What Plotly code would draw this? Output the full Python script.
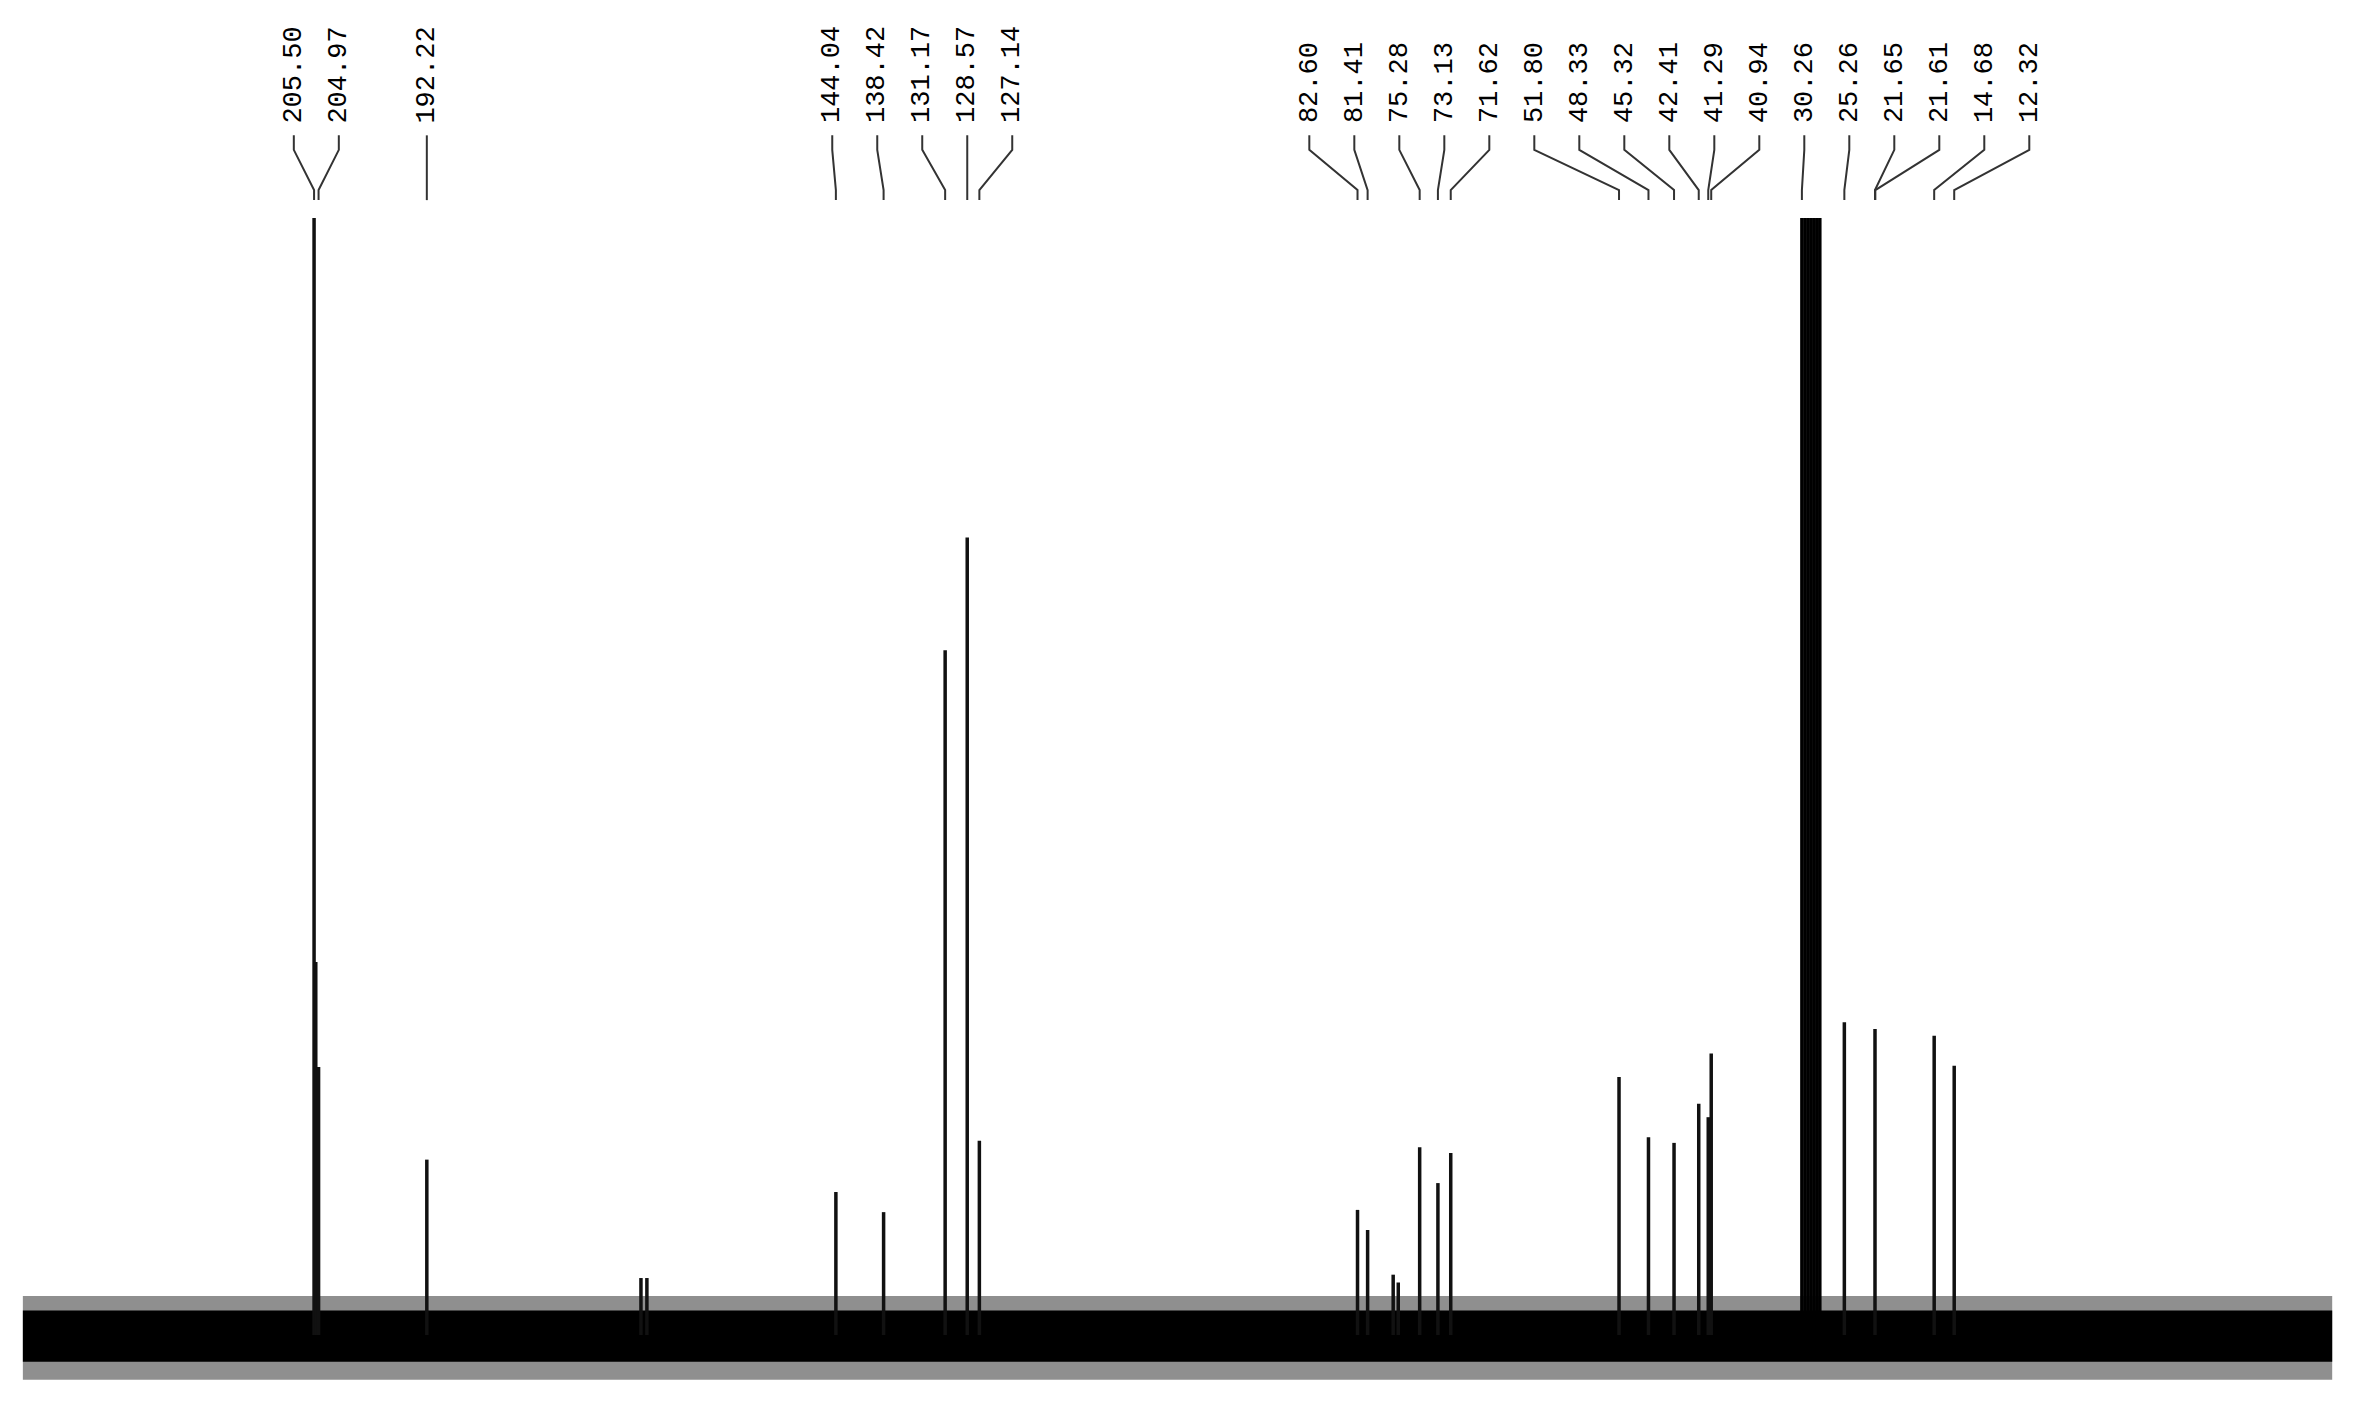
import plotly.graph_objects as go

# ---------------- data ----------------
label_text = ["205.50", "204.97", "192.22", "144.04", "138.42", "131.17", "128.57", "127.14",
              "82.60", "81.41", "75.28", "73.13", "71.62", "51.80", "48.33", "45.32",
              "42.41", "41.29", "40.94", "30.26", "25.26", "21.65", "21.61", "14.68", "12.32"]
label_ppm = [205.50, 204.97, 192.22, 144.04, 138.42, 131.17, 128.57, 127.14,
             82.60, 81.41, 75.28, 73.13, 71.62, 51.80, 48.33, 45.32,
             42.41, 41.29, 40.94, 30.26, 25.26, 21.65, 21.61, 14.68, 12.32]

peak_ppm = [205.50, 205.30, 204.97, 192.22, 167.0, 166.3, 144.04, 138.42, 131.17, 128.57, 127.14,
            82.60, 81.41, 78.4, 77.8, 75.28, 73.13, 71.62,
            51.80, 48.33, 45.32, 42.41, 41.29, 40.94, 25.26, 21.65, 14.68, 12.32]
peak_int = [100, 33.4, 24.0, 15.7, 5.1, 5.1, 12.8, 11.0, 61.3, 71.4, 17.4,
            11.2, 9.4, 5.4, 4.7, 16.8, 13.6, 16.3,
            23.1, 17.7, 17.2, 20.7, 19.5, 25.2, 28.0, 27.4, 26.8, 24.1]

solvent_ppm = [30.26, 29.90, 29.55, 29.20, 28.85, 28.50, 28.15]
solvent_int = [100, 100, 100, 100, 100, 100, 100]

noise_span = [239.8, -32.2]      # ppm extent of the recorded baseline
noise_core = [-2.4, 2.2]         # dense noise band
noise_fringe = [-4.0, 3.5]       # sparse noise spikes

# ---------------- layout helpers ----------------
X_RANGE = [241.55, -34.65]
Y_RANGE = [-7.52, 118.8]
LABEL_GAP = 5.30                 # ppm between neighbouring labels
Y_TEXT = 108.3
Y_C1, Y_C2, Y_C3, Y_C4 = 107.4, 106.1, 102.5, 101.6

# simple label repel: cluster labels and spread each cluster evenly round its mean
n = len(label_ppm)
order = sorted(range(n), key=lambda i: -label_ppm[i])
pos = [-label_ppm[i] for i in order]
clusters = [[k] for k in range(n)]


def spread(cl):
    m = sum(pos[k] for k in cl) / len(cl)
    s = m - LABEL_GAP * (len(cl) - 1) / 2
    return [s + LABEL_GAP * j for j in range(len(cl))]


merged = True
while merged:
    merged = False
    for c in range(len(clusters) - 1):
        a, b = spread(clusters[c]), spread(clusters[c + 1])
        if a[-1] + LABEL_GAP > b[0] + 1e-9:
            clusters[c] = clusters[c] + clusters[c + 1]
            del clusters[c + 1]
            merged = True
            break

label_pos = [0.0] * n
for cl in clusters:
    for k, p in zip(cl, spread(cl)):
        label_pos[order[k]] = -p

fig = go.Figure()

# baseline noise (fringe then core)
for band, col in ((noise_fringe, "#8f8f8f"), (noise_core, "#000000")):
    fig.add_trace(go.Scatter(
        x=[noise_span[0], noise_span[1], noise_span[1], noise_span[0], noise_span[0]],
        y=[band[1], band[1], band[0], band[0], band[1]],
        mode="lines", fill="toself", fillcolor=col, line=dict(width=0, color=col),
        hoverinfo="skip"))

# peak sticks
sx, sy = [], []
for p, h in zip(peak_ppm, peak_int):
    sx += [p, p, None]
    sy += [0, h, None]
fig.add_trace(go.Scatter(x=sx, y=sy, mode="lines",
                         line=dict(color="#111111", width=3.5), hoverinfo="skip"))

# solvent multiplet
vx, vy = [], []
for p, h in zip(solvent_ppm, solvent_int):
    vx += [p, p, None]
    vy += [0, h, None]
fig.add_trace(go.Scatter(x=vx, y=vy, mode="lines",
                         line=dict(color="#000000", width=3.5), hoverinfo="skip"))

# label connectors
cx, cy = [], []
for lp, pp in zip(label_pos, label_ppm):
    cx += [lp, lp, pp, pp, None]
    cy += [Y_C1, Y_C2, Y_C3, Y_C4, None]
fig.add_trace(go.Scatter(x=cx, y=cy, mode="lines",
                         line=dict(color="#333333", width=2), hoverinfo="skip"))

annotations = [dict(x=lp, y=Y_TEXT, xref="x", yref="y", text=t, showarrow=False,
                    textangle=-90, xanchor="center", yanchor="bottom",
                    font=dict(family="Liberation Mono, DejaVu Sans Mono, monospace",
                              size=27, color="#000000"))
               for lp, t in zip(label_pos, label_text)]

fig.update_layout(
    width=2345, height=1411,
    margin=dict(l=0, r=0, t=0, b=0),
    paper_bgcolor="white", plot_bgcolor="white",
    showlegend=False,
    xaxis=dict(range=X_RANGE, visible=False, showgrid=False, zeroline=False),
    yaxis=dict(range=Y_RANGE, visible=False, showgrid=False, zeroline=False),
    annotations=annotations,
)

fig.write_html("out.html")
